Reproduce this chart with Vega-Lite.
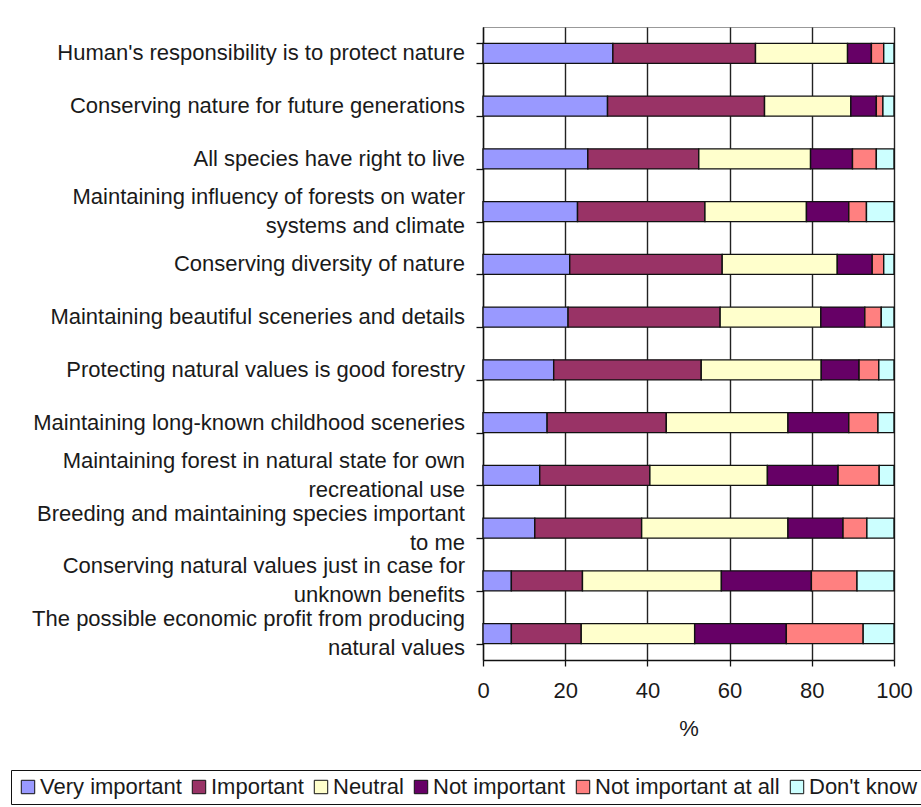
{
  "$schema": "https://vega.github.io/schema/vega-lite/v6.json",
  "width": 411,
  "height": 633,
  "autosize": {"type": "none"},
  "padding": {"left": 483, "top": 27, "right": 27, "bottom": 147},
  "background": "white",
  "config": {
    "font": "Liberation Sans",
    "view": {"stroke": "#999999", "strokeWidth": 1},
    "axis": {"labelColor": "#1a1a1a", "titleColor": "#1a1a1a", "labelFont": "Liberation Sans", "titleFont": "Liberation Sans"}
  },
  "data": {
    "values": [
      {"q": "Human's responsibility is to protect nature", "c": "Very important", "o": 1, "v": 31.6},
      {"q": "Human's responsibility is to protect nature", "c": "Important", "o": 2, "v": 34.7},
      {"q": "Human's responsibility is to protect nature", "c": "Neutral", "o": 3, "v": 22.4},
      {"q": "Human's responsibility is to protect nature", "c": "Not important", "o": 4, "v": 5.8},
      {"q": "Human's responsibility is to protect nature", "c": "Not important at all", "o": 5, "v": 3.0},
      {"q": "Human's responsibility is to protect nature", "c": "Don't know", "o": 6, "v": 2.5},
      {"q": "Conserving nature for future generations", "c": "Very important", "o": 1, "v": 30.3},
      {"q": "Conserving nature for future generations", "c": "Important", "o": 2, "v": 38.2},
      {"q": "Conserving nature for future generations", "c": "Neutral", "o": 3, "v": 21.0},
      {"q": "Conserving nature for future generations", "c": "Not important", "o": 4, "v": 6.2},
      {"q": "Conserving nature for future generations", "c": "Not important at all", "o": 5, "v": 1.6},
      {"q": "Conserving nature for future generations", "c": "Don't know", "o": 6, "v": 2.7},
      {"q": "All species have right to live", "c": "Very important", "o": 1, "v": 25.5},
      {"q": "All species have right to live", "c": "Important", "o": 2, "v": 27.0},
      {"q": "All species have right to live", "c": "Neutral", "o": 3, "v": 27.2},
      {"q": "All species have right to live", "c": "Not important", "o": 4, "v": 10.2},
      {"q": "All species have right to live", "c": "Not important at all", "o": 5, "v": 5.8},
      {"q": "All species have right to live", "c": "Don't know", "o": 6, "v": 4.3},
      {"q": "Maintaining influency of forests on water|systems and climate", "c": "Very important", "o": 1, "v": 23.0},
      {"q": "Maintaining influency of forests on water|systems and climate", "c": "Important", "o": 2, "v": 31.0},
      {"q": "Maintaining influency of forests on water|systems and climate", "c": "Neutral", "o": 3, "v": 24.7},
      {"q": "Maintaining influency of forests on water|systems and climate", "c": "Not important", "o": 4, "v": 10.3},
      {"q": "Maintaining influency of forests on water|systems and climate", "c": "Not important at all", "o": 5, "v": 4.3},
      {"q": "Maintaining influency of forests on water|systems and climate", "c": "Don't know", "o": 6, "v": 6.7},
      {"q": "Conserving diversity of nature", "c": "Very important", "o": 1, "v": 21.1},
      {"q": "Conserving diversity of nature", "c": "Important", "o": 2, "v": 37.1},
      {"q": "Conserving diversity of nature", "c": "Neutral", "o": 3, "v": 28.0},
      {"q": "Conserving diversity of nature", "c": "Not important", "o": 4, "v": 8.5},
      {"q": "Conserving diversity of nature", "c": "Not important at all", "o": 5, "v": 2.8},
      {"q": "Conserving diversity of nature", "c": "Don't know", "o": 6, "v": 2.5},
      {"q": "Maintaining beautiful sceneries and details", "c": "Very important", "o": 1, "v": 20.7},
      {"q": "Maintaining beautiful sceneries and details", "c": "Important", "o": 2, "v": 37.0},
      {"q": "Maintaining beautiful sceneries and details", "c": "Neutral", "o": 3, "v": 24.5},
      {"q": "Maintaining beautiful sceneries and details", "c": "Not important", "o": 4, "v": 10.7},
      {"q": "Maintaining beautiful sceneries and details", "c": "Not important at all", "o": 5, "v": 4.0},
      {"q": "Maintaining beautiful sceneries and details", "c": "Don't know", "o": 6, "v": 3.1},
      {"q": "Protecting natural values is good forestry", "c": "Very important", "o": 1, "v": 17.2},
      {"q": "Protecting natural values is good forestry", "c": "Important", "o": 2, "v": 35.9},
      {"q": "Protecting natural values is good forestry", "c": "Neutral", "o": 3, "v": 29.2},
      {"q": "Protecting natural values is good forestry", "c": "Not important", "o": 4, "v": 9.2},
      {"q": "Protecting natural values is good forestry", "c": "Not important at all", "o": 5, "v": 4.8},
      {"q": "Protecting natural values is good forestry", "c": "Don't know", "o": 6, "v": 3.7},
      {"q": "Maintaining long-known childhood sceneries", "c": "Very important", "o": 1, "v": 15.6},
      {"q": "Maintaining long-known childhood sceneries", "c": "Important", "o": 2, "v": 29.0},
      {"q": "Maintaining long-known childhood sceneries", "c": "Neutral", "o": 3, "v": 29.6},
      {"q": "Maintaining long-known childhood sceneries", "c": "Not important", "o": 4, "v": 14.8},
      {"q": "Maintaining long-known childhood sceneries", "c": "Not important at all", "o": 5, "v": 7.1},
      {"q": "Maintaining long-known childhood sceneries", "c": "Don't know", "o": 6, "v": 3.9},
      {"q": "Maintaining forest in natural state for own|recreational use", "c": "Very important", "o": 1, "v": 13.8},
      {"q": "Maintaining forest in natural state for own|recreational use", "c": "Important", "o": 2, "v": 26.8},
      {"q": "Maintaining forest in natural state for own|recreational use", "c": "Neutral", "o": 3, "v": 28.6},
      {"q": "Maintaining forest in natural state for own|recreational use", "c": "Not important", "o": 4, "v": 17.2},
      {"q": "Maintaining forest in natural state for own|recreational use", "c": "Not important at all", "o": 5, "v": 10.0},
      {"q": "Maintaining forest in natural state for own|recreational use", "c": "Don't know", "o": 6, "v": 3.6},
      {"q": "Breeding and maintaining species important|to me", "c": "Very important", "o": 1, "v": 12.6},
      {"q": "Breeding and maintaining species important|to me", "c": "Important", "o": 2, "v": 26.0},
      {"q": "Breeding and maintaining species important|to me", "c": "Neutral", "o": 3, "v": 35.6},
      {"q": "Breeding and maintaining species important|to me", "c": "Not important", "o": 4, "v": 13.4},
      {"q": "Breeding and maintaining species important|to me", "c": "Not important at all", "o": 5, "v": 5.8},
      {"q": "Breeding and maintaining species important|to me", "c": "Don't know", "o": 6, "v": 6.6},
      {"q": "Conserving natural values just in case for|unknown benefits", "c": "Very important", "o": 1, "v": 6.9},
      {"q": "Conserving natural values just in case for|unknown benefits", "c": "Important", "o": 2, "v": 17.3},
      {"q": "Conserving natural values just in case for|unknown benefits", "c": "Neutral", "o": 3, "v": 33.8},
      {"q": "Conserving natural values just in case for|unknown benefits", "c": "Not important", "o": 4, "v": 21.9},
      {"q": "Conserving natural values just in case for|unknown benefits", "c": "Not important at all", "o": 5, "v": 11.1},
      {"q": "Conserving natural values just in case for|unknown benefits", "c": "Don't know", "o": 6, "v": 9.0},
      {"q": "The possible economic profit from producing|natural values", "c": "Very important", "o": 1, "v": 6.9},
      {"q": "The possible economic profit from producing|natural values", "c": "Important", "o": 2, "v": 17.0},
      {"q": "The possible economic profit from producing|natural values", "c": "Neutral", "o": 3, "v": 27.6},
      {"q": "The possible economic profit from producing|natural values", "c": "Not important", "o": 4, "v": 22.3},
      {"q": "The possible economic profit from producing|natural values", "c": "Not important at all", "o": 5, "v": 18.7},
      {"q": "The possible economic profit from producing|natural values", "c": "Don't know", "o": 6, "v": 7.5}
    ]
  },
  "encoding": {
    "y": {
      "field": "q",
      "type": "nominal",
      "sort": null,
      "scale": {
        "domain": [
          "Human's responsibility is to protect nature",
          "Conserving nature for future generations",
          "All species have right to live",
          "Maintaining influency of forests on water|systems and climate",
          "Conserving diversity of nature",
          "Maintaining beautiful sceneries and details",
          "Protecting natural values is good forestry",
          "Maintaining long-known childhood sceneries",
          "Maintaining forest in natural state for own|recreational use",
          "Breeding and maintaining species important|to me",
          "Conserving natural values just in case for|unknown benefits",
          "The possible economic profit from producing|natural values"
        ],
        "paddingInner": 0.62,
        "paddingOuter": 0.31
      },
      "axis": {
        "title": null,
        "labels": false,
        "tickSize": 7,
        "tickBand": "extent",
        "tickColor": "#111111",
        "tickWidth": 1.3,
        "domainColor": "#111111",
        "domainWidth": 1.3,
        "grid": false
      }
    }
  },
  "layer": [
    {
      "mark": {"type": "bar", "stroke": "#111111", "strokeWidth": 1.4},
      "encoding": {
        "x": {
          "field": "v",
          "type": "quantitative",
          "stack": "zero",
          "scale": {"domain": [0, 100], "nice": false},
          "axis": {
            "title": "%",
            "values": [0, 20, 40, 60, 80, 100],
            "labelFlush": false,
            "labelFontSize": 22,
            "titleFontSize": 22,
            "titleFontWeight": "normal",
            "labelPadding": 14,
            "titlePadding": 17,
            "tickSize": 6,
            "tickColor": "#111111",
            "tickWidth": 1.3,
            "domainColor": "#111111",
            "domainWidth": 1.3,
            "grid": true,
            "gridColor": "#222222",
            "gridWidth": 1.4
          }
        },
        "color": {
          "field": "c",
          "type": "nominal",
          "sort": ["Very important", "Important", "Neutral", "Not important", "Not important at all", "Don't know"],
          "scale": {
            "domain": ["Very important", "Important", "Neutral", "Not important", "Not important at all", "Don't know"],
            "range": ["#9999FF", "#993366", "#FFFFCC", "#660066", "#FF8080", "#CCFFFF"]
          },
          "legend": {
            "title": null,
            "orient": "none",
            "direction": "horizontal",
            "legendX": -472,
            "legendY": 743,
            "padding": 6,
            "strokeColor": "#111111",
            "symbolType": "square",
            "symbolSize": 180,
            "symbolStrokeColor": "#111111",
            "symbolStrokeWidth": 1,
            "labelFontSize": 22,
            "labelColor": "#1a1a1a",
            "labelOffset": 1,
            "columnPadding": 6,
            "labelLimit": 400
          }
        },
        "order": {"field": "o", "type": "quantitative"}
      }
    },
    {
      "transform": [{"filter": "datum.c === 'Very important' && indexof(datum.q, '|') < 0"}],
      "mark": {"type": "text", "align": "right", "baseline": "middle", "dx": -18, "fontSize": 22, "font": "Liberation Sans", "color": "#1a1a1a"},
      "encoding": {
        "x": {"datum": 0, "type": "quantitative"},
        "text": {"field": "q"}
      }
    },
    {
      "transform": [{"filter": "datum.c === 'Very important' && indexof(datum.q, '|') >= 0"}],
      "mark": {"type": "text", "align": "right", "baseline": "middle", "dx": -18, "dy": -14.5, "lineBreak": "|", "lineHeight": 29, "fontSize": 22, "font": "Liberation Sans", "color": "#1a1a1a"},
      "encoding": {
        "x": {"datum": 0, "type": "quantitative"},
        "text": {"field": "q"}
      }
    }
  ]
}
